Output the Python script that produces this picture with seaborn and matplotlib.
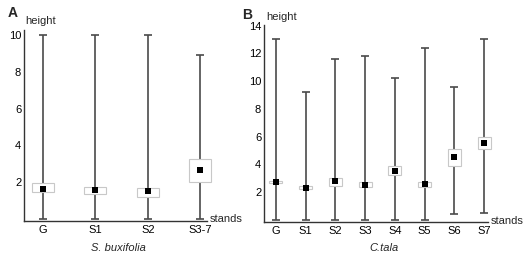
import numpy as np
import matplotlib
matplotlib.use('Agg')
import matplotlib.pyplot as plt
import seaborn as sns

sns.set_style('white')
plt.rcParams['font.family'] = ['Liberation Sans', 'DejaVu Sans']

# ------------------------------------------------------------
# Data: mean, box (lo/hi), whisker (min/max)
# ------------------------------------------------------------
a_stands = ['G', 'S1', 'S2', 'S3-7']
a_mean = [1.64, 1.58, 1.49, 2.67]
a_box_lo = [1.47, 1.36, 1.20, 2.02]
a_box_hi = [1.96, 1.75, 1.69, 3.27]
a_min = [0.0, 0.0, 0.0, 0.0]
a_max = [10.0, 10.0, 10.0, 8.95]

b_stands = ['G', 'S1', 'S2', 'S3', 'S4', 'S5', 'S6', 'S7']
b_mean = [2.72, 2.33, 2.79, 2.52, 3.55, 2.60, 4.52, 5.53]
b_box_lo = [2.63, 2.21, 2.47, 2.36, 3.22, 2.40, 3.89, 5.12]
b_box_hi = [2.81, 2.43, 3.05, 2.72, 3.91, 2.74, 5.12, 5.96]
b_min = [0.0, 0.0, 0.0, 0.0, 0.0, 0.0, 0.40, 0.48]
b_max = [13.05, 9.2, 11.6, 11.8, 10.2, 12.4, 9.6, 13.05]

fig = plt.figure(figsize=(5.28, 2.61), dpi=100)
ax_a = fig.add_axes([24 / 528, 40 / 261, 183 / 528, 191 / 261])
ax_b = fig.add_axes([264 / 528, 39 / 261, 224 / 528, 197 / 261])


def draw_panel(ax, stands, mean, lo, hi, wmin, wmax, box_w):
    x = np.arange(len(stands))
    mean = np.array(mean)
    # boxes
    ax.bar(x, np.array(hi) - np.array(lo), bottom=lo, width=box_w,
           color='white', edgecolor='#c8c8c8', linewidth=0.8, zorder=2, clip_on=False)
    # whiskers
    ax.errorbar(x, mean, yerr=[mean - np.array(wmin), np.array(wmax) - mean],
                fmt='none', ecolor='#4a4a4a', elinewidth=1.2, capsize=3,
                capthick=1.2, zorder=1)
    # means
    sns.scatterplot(x=x, y=mean, ax=ax, marker='s', color='black', s=14,
                    edgecolor='black', linewidth=0, zorder=3)
    ax.set_xticks(x)
    ax.set_xticklabels(stands)
    for s in ['top', 'right']:
        ax.spines[s].set_visible(False)
    for s in ['left', 'bottom']:
        ax.spines[s].set_color('#333333')
        ax.spines[s].set_linewidth(1.0)
    ax.tick_params(axis='both', direction='in', length=2, width=0.8,
                   labelsize=8, pad=2, colors='#333333', labelcolor='black')
    ax.tick_params(axis='x', pad=3)


draw_panel(ax_a, a_stands, a_mean, a_box_lo, a_box_hi, a_min, a_max, 0.42)
ax_a.set_xlim(-0.365, 3.13)
ax_a.set_ylim(-0.12, 10.3)
ax_a.set_yticks([2, 4, 6, 8, 10])

draw_panel(ax_b, b_stands, b_mean, b_box_lo, b_box_hi, b_min, b_max, 0.44)
ax_b.set_xlim(-0.40, 7.13)
ax_b.set_ylim(-0.15, 14.05)
ax_b.set_yticks([2, 4, 6, 8, 10, 12, 14])

# axis captions
fig.text(25 / 528, 1 - 21 / 261, 'height', fontsize=8, va='center', ha='left')
fig.text(266 / 528, 1 - 17 / 261, 'height', fontsize=8, va='center', ha='left')
fig.text(210 / 528, 1 - 219 / 261, 'stands', fontsize=8, va='center', ha='left')
fig.text(491 / 528, 1 - 221 / 261, 'stands', fontsize=8, va='center', ha='left')
fig.text(118 / 528, 1 - 248 / 261, 'S. buxifolia', fontsize=8, style='italic',
         va='center', ha='center')
fig.text(384 / 528, 1 - 248 / 261, 'C.tala', fontsize=8, style='italic',
         va='center', ha='center')

# panel letters
fig.text(8 / 528, 1 - 13 / 261, 'A', fontsize=10, fontweight='bold', va='center', ha='left')
fig.text(242 / 528, 1 - 15 / 261, 'B', fontsize=10, fontweight='bold', va='center', ha='left')

fig.savefig('out.png', dpi=100)
